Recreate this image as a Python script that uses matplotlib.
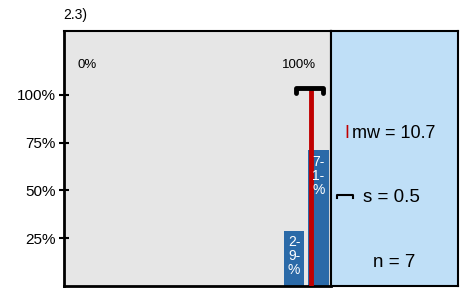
import matplotlib.pyplot as plt

plt.rcParams['font.family'] = ['Liberation Sans', 'DejaVu Sans']

# Daten
noten = [10, 11]
anteile = [0.29, 0.71]
bar_labels = ['2-\n9-\n%', '7-\n1-\n%']
mw = 10.7
s = 0.5
n = 7
y_ticks = [0.25, 0.5, 0.75, 1.0]
y_ticklabels = ['25%', '50%', '75%', '100%']

fig = plt.figure(figsize=(4.69, 2.89), dpi=100)
ax = fig.add_axes([63.5 / 469, 3 / 289, (331 - 63.5) / 469, (286 - 31) / 289])
panel = fig.add_axes([331 / 469, 3 / 289, (458 - 331) / 469, (286 - 31) / 289])

ax.set_facecolor('#e6e6e6')
ax.bar(noten, anteile, width=0.85, color='#2b6aa8', zorder=2)
for x, h, lab in zip(noten, anteile, bar_labels):
    ax.text(x, h - 0.025, lab, color='white', ha='center', va='top',
            fontsize=10, linespacing=1.0, zorder=4)

# Mittelwert und Streuung
y_err = 1.035
ax.plot([mw, mw], [0, y_err], color='#c00000', lw=3.5, zorder=3, solid_capstyle='butt')
ax.plot([mw - s - 0.1, mw - s - 0.1, mw + s, mw + s],
        [y_err - 0.025, y_err, y_err, y_err - 0.025],
        color='black', lw=3.5, zorder=5, solid_capstyle='round', solid_joinstyle='round')

ax.set_xlim(0.59, 11.51)
ax.set_ylim(0, 1.335)
ax.set_xticks([])
ax.set_yticks(y_ticks)
ax.set_yticklabels(y_ticklabels, fontsize=11)
ax.tick_params(axis='y', direction='inout', length=7, width=1.5, pad=2)
for sp in ax.spines.values():
    sp.set_linewidth(1.5)
ax.spines['left'].set_linewidth(2)
ax.spines['bottom'].set_linewidth(2)

ax.text(1.55, 1.155, '0%', ha='center', va='center', fontsize=9.5)
ax.text(10.2, 1.155, '100%', ha='center', va='center', fontsize=9.5)

# Kennwerte
panel.set_facecolor('#bfdff7')
panel.set_xticks([])
panel.set_yticks([])
for sp in panel.spines.values():
    sp.set_linewidth(1.5)
panel.set_xlim(0, 1)
panel.set_ylim(0, 1)
panel.text(0.125, 0.6, 'I', color='#c00000', ha='center', va='center', fontsize=13)
panel.text(0.165, 0.6, 'mw = ' + str(mw), ha='left', va='center', fontsize=13)
panel.plot([0.05, 0.05, 0.17, 0.17], [0.345, 0.357, 0.357, 0.345], color='black', lw=1.5)
panel.text(0.475, 0.349, 's = ' + str(s), ha='center', va='center', fontsize=13.5)
panel.text(0.5, 0.094, 'n = ' + str(n), ha='center', va='center', fontsize=13.5)

fig.text(63 / 469, 1 - 15 / 289, '2.3)', ha='left', va='center', fontsize=10)

fig.savefig('out.png', dpi=100)
